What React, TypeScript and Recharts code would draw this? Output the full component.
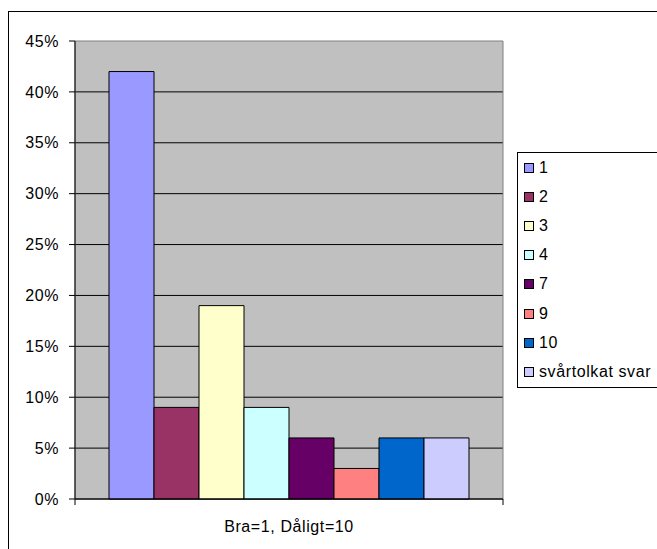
import React from 'react';
import {
  BarChart,
  Bar,
  XAxis,
  YAxis,
  CartesianGrid,
  Legend,
  ReferenceArea,
} from 'recharts';

// one category, eight answer groups drawn as separate bars
const categories = ['Bra=1, Dåligt=10'];
const seriesNames = ['1', '2', '3', '4', '7', '9', '10', 'svårtolkat svar'];
const seriesValues = [42, 9, 19, 9, 6, 3, 6, 6];
const seriesColors = [
  '#9999FF',
  '#993366',
  '#FFFFCC',
  '#CCFFFF',
  '#660066',
  '#FF8080',
  '#0066CC',
  '#CCCCFF',
];
const yTicks = [0, 5, 10, 15, 20, 25, 30, 35, 40, 45];

const FONT = '"Liberation Sans", Arial, sans-serif';
const textStyle = { fontFamily: FONT, fontSize: 16, letterSpacing: 0.6 };

const data = categories.map((category) => {
  const row: Record<string, string | number> = { category };
  seriesNames.forEach((_, i) => {
    row[`s${i}`] = seriesValues[i];
  });
  return row;
});

// category label plus the two boundary tick marks of the band
function CategoryTick(props: any) {
  const { x, y, payload } = props;
  const half = payload?.offset ?? 0;
  return (
    <g>
      <line x1={x - half} y1={y - 6} x2={x - half} y2={y} stroke="#000" />
      <line x1={x + half} y1={y - 6} x2={x + half} y2={y} stroke="#000" />
      <text x={x} y={y} dy={27} textAnchor="middle" fill="#000" style={textStyle}>
        {payload.value}
      </text>
    </g>
  );
}

function GridLine(props: any) {
  const { x1, y1, x2, y2, y } = props;
  // the top edge is drawn as the grey plot border instead
  if (Math.abs(y1 - y) < 0.5) return <g />;
  return <line x1={x1} y1={y1} x2={x2} y2={y2} stroke="#000" strokeWidth={1} />;
}

function LegendBox(props: any) {
  const items = props.payload ?? [];
  return (
    <div
      style={{
        border: '1px solid #000',
        background: '#fff',
        width: 160,
        boxSizing: 'border-box',
        fontFamily: FONT,
        fontSize: 16,
        letterSpacing: 0.6,
        color: '#000',
      }}
    >
      {items.map((item: any) => (
        <div
          key={item.value}
          style={{ height: 29.2, display: 'flex', alignItems: 'center', paddingLeft: 6 }}
        >
          <span
            style={{
              display: 'inline-block',
              width: 8,
              height: 8,
              border: '1px solid #000',
              background: item.color,
              marginRight: 5,
            }}
          />
          <span>{item.value}</span>
        </div>
      ))}
    </div>
  );
}

export default function App() {
  return (
    <div
      style={{
        position: 'absolute',
        left: 0,
        top: 0,
        width: 657,
        height: 549,
        overflow: 'hidden',
        background: '#fff',
      }}
    >
      <div
        style={{
          position: 'absolute',
          left: 8,
          top: 11,
          width: 700,
          height: 600,
          border: '1px solid #000',
        }}
      />
      <div style={{ position: 'absolute', left: 0, top: 0 }}>
        <BarChart
          width={657}
          height={549}
          data={data}
          margin={{ top: 41, right: 154, bottom: 20, left: 15 }}
          barSize={45}
          barGap={0}
        >
          <CartesianGrid
            vertical={false}
            horizontal={GridLine}
            fill="#C0C0C0"
            fillOpacity={1}
          />
          <ReferenceArea
            x1={categories[0]}
            x2={categories[0]}
            y1={0}
            y2={45}
            stroke="#808080"
            strokeWidth={1}
            fill="none"
            fillOpacity={0}
          />
          <XAxis
            dataKey="category"
            height={30}
            axisLine={{ stroke: '#000' }}
            tickLine={false}
            tickSize={6}
            tickMargin={0}
            tick={<CategoryTick />}
          />
          <YAxis
            width={60}
            domain={[0, 45]}
            ticks={yTicks}
            interval={0}
            tickFormatter={(v) => `${v}%`}
            axisLine={{ stroke: '#000' }}
            tickLine={{ stroke: '#000' }}
            tickSize={6}
            tickMargin={10}
            tick={{ fill: '#000', ...textStyle }}
          />
          {seriesNames.map((name, i) => (
            <Bar
              key={name}
              dataKey={`s${i}`}
              name={name}
              fill={seriesColors[i]}
              stroke="#000"
              strokeWidth={1}
              isAnimationActive={false}
            />
          ))}
          <Legend
            layout="vertical"
            align="center"
            verticalAlign="middle"
            itemSorter={(item: any) => seriesNames.indexOf(String(item.value))}
            content={<LegendBox />}
            wrapperStyle={{ left: 517, top: 152, width: 160 }}
          />
        </BarChart>
      </div>
    </div>
  );
}
